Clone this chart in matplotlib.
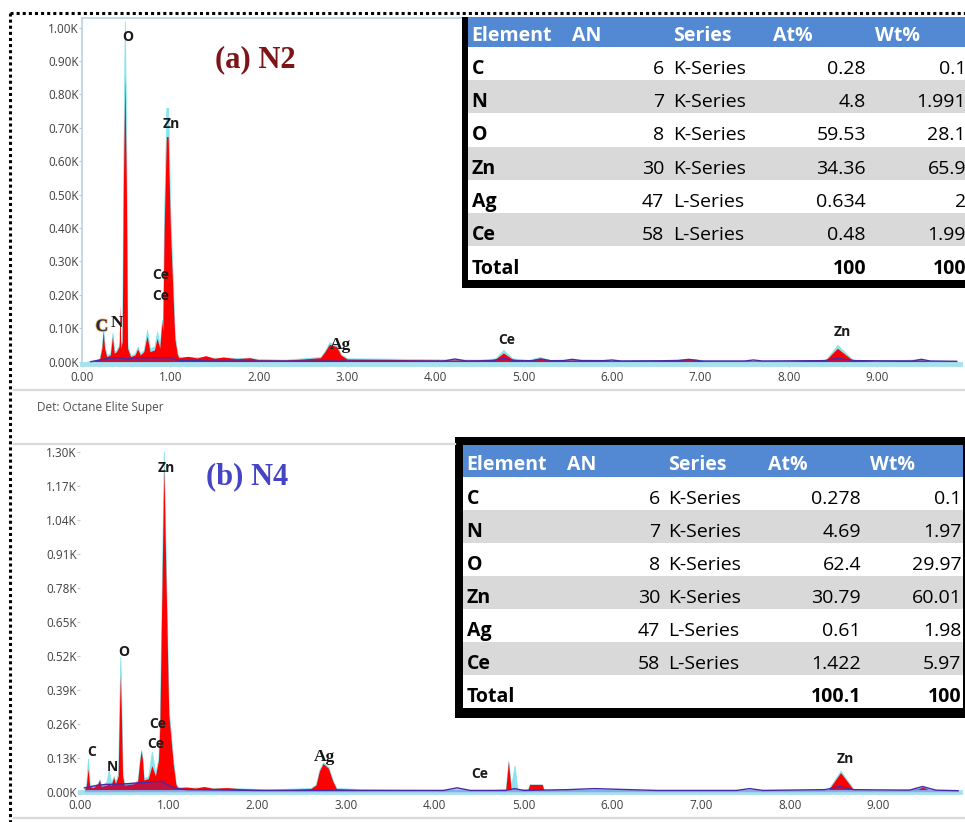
import numpy as np
import matplotlib
matplotlib.use('Agg')
import matplotlib.pyplot as plt
from matplotlib.patches import Rectangle
import matplotlib.patheffects as pe

W, H = 965, 822

# --- spectrum (a) N2: energy (keV), measured counts (red) and fit (cyan) ---
energy_n2 = [0.05, 0.15, 0.20, 0.225, 0.24, 0.255, 0.28, 0.32, 0.345, 0.365,
             0.39, 0.42, 0.43, 0.44, 0.455, 0.468, 0.485, 0.502, 0.515, 0.55,
             0.60, 0.63, 0.66, 0.70, 0.736, 0.77, 0.82, 0.85, 0.88, 0.905,
             0.915, 0.93, 0.955, 0.975, 1.0, 1.05, 1.08, 1.10, 1.2, 1.3,
             1.4, 1.5, 1.6, 1.75, 1.9, 2.0, 2.3, 2.5, 2.7, 2.75,
             2.80, 2.88, 2.93, 3.0, 3.5, 4.0, 4.5, 4.68, 4.77, 4.87,
             5.05, 5.18, 5.3, 5.55, 6.0, 6.5, 6.8, 6.95, 7.05, 8.0,
             8.42, 8.55, 8.72, 9.0, 9.49, 9.6, 9.9]
counts_n2 = [0, 3, 8, 40, 92, 40, 15, 20, 75, 25,
             30, 45, 170, 40, 60, 520, 858, 520, 40, 15,
             20, 38, 20, 30, 77, 30, 35, 70, 40, 120,
             90, 400, 674, 674, 400, 70, 20, 12, 16, 11,
             18, 10, 14, 9, 12, 6, 5, 8, 12, 30,
             52, 45, 20, 8, 7, 5, 5, 8, 26, 8,
             4, 11, 4, 5, 3, 3, 7, 7, 2, 2,
             5, 40, 5, 2, 5, 2, 1]
fit_n2 = [0, 4, 10, 45, 100, 50, 20, 25, 86, 30,
          35, 50, 60, 45, 70, 620, 1018, 620, 50, 18,
          25, 45, 25, 35, 95, 40, 45, 90, 50, 125,
          100, 450, 760, 760, 450, 80, 25, 15, 14, 13,
          13, 12, 12, 11, 10, 8, 6, 10, 14, 33,
          58, 50, 22, 10, 9, 7, 6, 10, 35, 10,
          5, 14, 5, 7, 5, 4, 8, 8, 3, 3,
          6, 50, 6, 3, 7, 3, 2]
bg_energy_n2 = [0.1, 0.2, 0.3, 0.4, 0.5, 0.6, 0.8, 1.0, 1.1, 1.5,
                4.1, 4.22, 4.35, 4.65, 4.77, 4.9, 5.1, 5.2, 5.3, 5.45,
                5.55, 5.65, 5.9, 6.0, 6.1, 6.75, 6.87, 7.0, 7.5, 7.6,
                7.7, 8.4, 8.55, 8.75, 9.4, 9.5, 9.6, 9.9]
bg_n2 = [0, 5, 10, 12, 8, 11, 12, 12, 4, 2,
         2, 8, 2, 3, 10, 3, 3, 8, 3, 3,
         7, 3, 3, 5, 2, 3, 7, 2, 2, 5,
         2, 3, 10, 3, 2, 7, 2, 1]
labels_n2 = [('O', 0.518, 972, 'sans'), ('Zn', 1.014, 711, 'sans'),
             ('Ce', 0.89, 259, 'sans'), ('Ce', 0.89, 196, 'sans'),
             ('C', 0.225, 104, 'serifc'), ('N', 0.394, 116, 'serif'),
             ('Ag', 2.93, 50, 'serif'), ('Ce', 4.81, 65, 'sans'),
             ('Zn', 8.61, 89, 'sans')]

# --- spectrum (b) N4 ---
energy_n4 = [0.04, 0.07, 0.09, 0.11, 0.15, 0.20, 0.22, 0.24, 0.30, 0.325,
             0.35, 0.38, 0.40, 0.43, 0.444, 0.455, 0.466, 0.48, 0.50, 0.60,
             0.65, 0.675, 0.69, 0.705, 0.72, 0.77, 0.81, 0.85, 0.885, 0.90,
             0.925, 0.945, 0.97, 1.0, 1.05, 1.08, 1.10, 1.2, 1.3, 1.4,
             1.5, 1.65, 1.8, 2.1, 2.4, 2.6, 2.66, 2.70, 2.74, 2.80,
             2.85, 2.89, 3.2, 3.6, 4.2, 4.6, 4.80, 4.83, 4.86, 4.90,
             4.93, 5.05, 5.07, 5.21, 5.23, 5.6, 6.5, 7.5, 8.2, 8.44,
             8.575, 8.72, 9.0, 9.45, 9.5, 9.58, 9.9]
counts_n4 = [0, 20, 88, 20, 15, 30, 45, 20, 25, 30,
             25, 55, 30, 60, 300, 445, 300, 60, 25, 30,
             40, 120, 157, 120, 45, 50, 100, 60, 120, 250,
             800, 1243, 800, 300, 110, 30, 15, 18, 14, 20,
             13, 16, 12, 8, 10, 12, 25, 80, 108, 90,
             40, 12, 8, 6, 5, 5, 8, 115, 10, 8,
             6, 8, 28, 28, 6, 5, 4, 3, 3, 8,
             73, 8, 3, 10, 18, 5, 2]
fit_n4 = [0, 25, 127, 25, 18, 32, 48, 22, 40, 85,
          35, 60, 35, 70, 350, 516, 350, 70, 30, 32,
          45, 125, 160, 125, 50, 60, 153, 70, 130, 280,
          850, 1300, 850, 320, 120, 35, 18, 16, 16, 16,
          15, 14, 13, 10, 12, 14, 28, 85, 112, 95,
          45, 14, 10, 8, 7, 6, 10, 118, 20, 100,
          10, 10, 28, 28, 8, 6, 5, 4, 4, 10,
          80, 10, 4, 12, 20, 6, 3]
bg_energy_n4 = [0.05, 0.2, 0.3, 0.5, 0.7, 0.92, 1.05, 1.2, 2.0, 4.1,
                4.25, 4.4, 4.8, 4.9, 5.0, 5.5, 5.8, 6.2, 6.5, 7.4,
                7.55, 7.7, 8.4, 8.56, 8.72, 9.35, 9.5, 9.65, 9.9]
bg_n4 = [15, 25, 28, 30, 35, 40, 15, 8, 5, 5,
         15, 5, 5, 12, 5, 8, 12, 8, 5, 5,
         12, 5, 8, 20, 8, 6, 20, 6, 4]
labels_n4 = [('Zn', 0.976, 1238, 'sans'), ('O', 0.494, 534, 'sans'),
             ('Ce', 0.875, 259, 'sans'), ('Ce', 0.853, 182, 'sans'),
             ('C', 0.135, 153, 'sans'), ('N', 0.36, 95, 'sans'),
             ('Ag', 2.76, 134, 'serif'), ('Ce', 4.51, 68, 'sans'),
             ('Zn', 8.63, 125, 'sans')]

# --- composition tables ---
elements = ['C', 'N', 'O', 'Zn', 'Ag', 'Ce']
atomic_numbers = ['6', '7', '8', '30', '47', '58']
series = ['K-Series', 'K-Series', 'K-Series', 'K-Series', 'L-Series', 'L-Series']
at_n2 = ['0.28', '4.8', '59.53', '34.36', '0.634', '0.48']
wt_n2 = ['0.1', '1.991', '28.1', '65.9', '2', '1.99']
total_n2 = ['100', '100']
at_n4 = ['0.278', '4.69', '62.4', '30.79', '0.61', '1.422']
wt_n4 = ['0.1', '1.97', '29.97', '60.01', '1.98', '5.97']
total_n4 = ['100.1', '100']
headers = ['Element', 'AN', 'Series', 'At%', 'Wt%']

SANS = 'Open Sans'
SERIF = 'Liberation Serif'


def px_axes(left, top, right, bottom):
    return fig.add_axes([left / W, 1 - bottom / H, (right - left) / W, (bottom - top) / H])


def draw_spectrum(ax, energy, counts, fit, bg_e, bg, labels, ymax, ystep, xlim, ylim,
                  frame=True):
    ax.fill_between(energy, fit, color='#86e3ef', lw=0.6, edgecolor='#86e3ef', zorder=1)
    ax.fill_between(energy, counts, color='#ff0000', lw=0, zorder=2)
    ax.fill_between(bg_e, bg, color='#3b3bd6', alpha=0.3, lw=0, zorder=3)
    ax.plot(bg_e, bg, color='#4b2aa8', lw=1.0, zorder=3)
    ax.set_xlim(*xlim)
    ax.set_ylim(*ylim)
    yt = np.arange(0, ymax + 1, ystep)
    ax.set_yticks(yt)
    ax.set_yticklabels([f'{t / 1000:.2f}K' for t in yt])
    xt = np.arange(0, 10)
    ax.set_xticks(xt)
    ax.set_xticklabels([f'{t:.2f}' for t in xt])
    ax.tick_params(length=2, color='#c8c8c8', labelsize=8.5, labelcolor='#404040')
    ax.tick_params(axis='y', pad=0.5)
    ax.tick_params(axis='x', pad=3)
    for lab in ax.get_xticklabels() + ax.get_yticklabels():
        lab.set_fontfamily(SANS)
    ax.spines['right'].set_visible(False)
    for s in ('left', 'top'):
        ax.spines[s].set_color('#b3d3ea')
        ax.spines[s].set_linewidth(1.2)
        ax.spines[s].set_visible(frame)
    ax.spines['bottom'].set_color('#a8e0ee')
    ax.spines['bottom'].set_linewidth(3.5)
    for text, e, c, style in labels:
        if style == 'sans':
            ax.text(e, c, text, ha='center', va='center', fontsize=10,
                    family=SANS, weight='bold', color='#1a1a1a', zorder=5)
        elif style == 'serif':
            ax.text(e, c, text, ha='center', va='center', fontsize=12.5,
                    family=SERIF, weight='bold', color='#151515', zorder=5)
        else:
            ax.text(e, c, text, ha='center', va='center', fontsize=12.5,
                    family=SERIF, weight='bold', color='#1b2a55', zorder=5,
                    path_effects=[pe.withStroke(linewidth=1.2, foreground='#f0a030')])


fig = plt.figure(figsize=(W / 100, H / 100), dpi=100)

ax_a = px_axes(82, 18, 960, 364)
draw_spectrum(ax_a, energy_n2, counts_n2, fit_n2, bg_energy_n2, bg_n2, labels_n2,
              1000, 100, ((82 - 78) / 88.75, (960 - 78) / 88.75), (-7, 1029))

ax_b = px_axes(80, 448, 960, 792)
draw_spectrum(ax_b, energy_n4, counts_n4, fit_n4, bg_energy_n4, bg_n4, labels_n4,
              1300, 130, ((80 - 76) / 89.1, (960 - 76) / 89.1), (-1, 1314), frame=False)

# overlay in pixel coordinates for frame, separators and tables
ov = fig.add_axes([0, 0, 1, 1], zorder=10)
ov.set_xlim(0, W)
ov.set_ylim(H, 0)
ov.axis('off')
ov.patch.set_alpha(0)

for y, x0, x1 in [(390, 14, W), (444, 14, 455), (818, 14, W)]:
    ov.plot([x0, x1], [y, y], color='#d9d9d9', lw=1.6)

ov.text(37, 407, 'Det: Octane Elite Super', fontsize=8.5, family=SANS,
        color='#505050', va='center')
ov.text(255, 60, '(a) N2', fontsize=22, family=SERIF, weight='bold',
        color='#7d1518', ha='center', va='center')
ov.text(247, 477, '(b) N4', fontsize=22, family=SERIF, weight='bold',
        color='#4444c4', ha='center', va='center')


def draw_table(left, inner, head_top, head_bot, row_h, right, at, wt, total,
               cx, bottom_black, top_black=None, right_black=None):
    n = len(elements) + 1
    rows_bot = head_bot + n * row_h
    frame_top = head_top if top_black is None else top_black[0]
    ov.add_patch(Rectangle((inner, head_top), right - inner, rows_bot - head_top,
                           facecolor='white', edgecolor='none'))
    ov.add_patch(Rectangle((inner, head_top), right - inner, head_bot - head_top,
                           facecolor='#5289d2', edgecolor='none'))
    for i in range(n):
        if i % 2 == 1:
            ov.add_patch(Rectangle((inner, head_bot + i * row_h), right - inner, row_h,
                                   facecolor='#d9d9d9', edgecolor='none'))
    ov.add_patch(Rectangle((left, frame_top), inner - left, bottom_black[1] - frame_top,
                           facecolor='black', edgecolor='none'))
    ov.add_patch(Rectangle((left, bottom_black[0]), right - left,
                           bottom_black[1] - bottom_black[0], facecolor='black', edgecolor='none'))
    if top_black is not None:
        ov.add_patch(Rectangle((left, top_black[0]), right - left,
                               top_black[1] - top_black[0], facecolor='black', edgecolor='none'))
    if right_black is not None:
        ov.add_patch(Rectangle((right_black, frame_top), right - right_black,
                               bottom_black[1] - frame_top, facecolor='black', edgecolor='none'))

    fs = 14
    hy = (head_top + head_bot) / 2 + 9.5
    hx = [cx['elem'], cx['an_h'], cx['ser'], cx['at_h'], cx['wt_h']]
    for h, x in zip(headers, hx):
        ov.text(x, hy, h, fontsize=fs, family=SANS, weight='bold', color='white',
                ha='left', va='baseline')
    rows = list(zip(elements, atomic_numbers, series, at, wt))
    rows.append(('Total', '', '', total[0], total[1]))
    for i, (el, an, se, a, w) in enumerate(rows):
        y = head_bot + (i + 0.5) * row_h + 10.5
        bold = 'bold' if el == 'Total' else 'normal'
        ov.text(cx['elem'], y, el, fontsize=fs, family=SANS, weight='bold',
                color='black', ha='left', va='baseline')
        ov.text(cx['an'], y, an, fontsize=fs, family=SANS, color='black',
                ha='right', va='baseline')
        ov.text(cx['ser'], y, se, fontsize=fs, family=SANS, color='black',
                ha='left', va='baseline')
        ov.text(cx['at'], y, a, fontsize=fs, family=SANS, weight=bold,
                color='black', ha='right', va='baseline')
        ov.text(cx['wt'], y, w, fontsize=fs, family=SANS, weight=bold,
                color='black', ha='right', va='baseline')


draw_table(461.7, 468.3, 16.7, 46.7, 33.3, W, at_n2, wt_n2, total_n2,
           dict(elem=471.7, an_h=571.7, an=664, ser=672.7, at_h=773, at=866,
                wt_h=875, wt=966),
           bottom_black=(280, 288))
draw_table(455, 463.3, 445, 476.7, 33.1, W, at_n4, wt_n4, total_n4,
           dict(elem=466.7, an_h=567.3, an=660, ser=668.3, at_h=768.3, at=861,
                wt_h=870, wt=961.5),
           bottom_black=(708.3, 718.3), top_black=(436.7, 445), right_black=962.8)

# dotted outer frame
ov.plot([10, W], [13, 13], color='black', lw=2.2, ls=(0, (1, 1)))
ov.plot([10, 10], [13, H], color='black', lw=2.2, ls=(0, (1, 1)))

plt.savefig('out.png', dpi=100)
